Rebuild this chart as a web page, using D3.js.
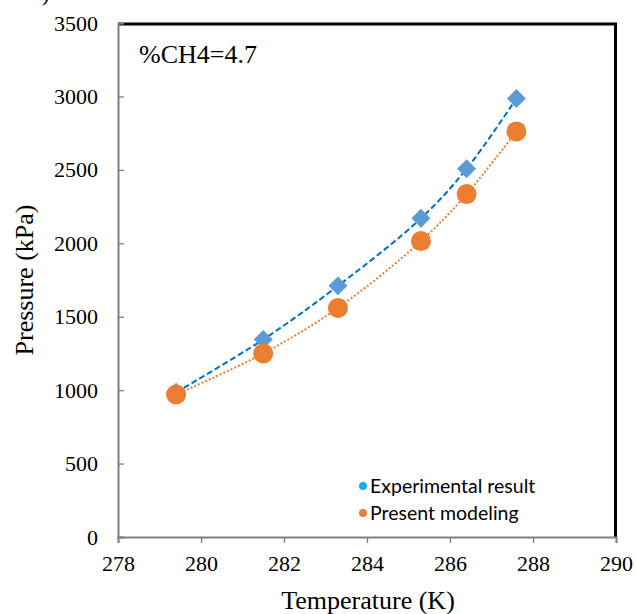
<!DOCTYPE html>
<html>
<head>
<meta charset="utf-8">
<script src="https://cdn.jsdelivr.net/npm/d3@7"></script>
<style>
  body { margin: 0; background: #fff; }
  svg { display: block; }
</style>
</head>
<body>
<svg id="chart"></svg>
<script>
// data
const temperature = [279.4, 281.5, 283.3, 285.3, 286.4, 287.6];
const experimental = [985, 1345, 1710, 2170, 2507, 2986];
const modeling = [970, 1250, 1560, 2015, 2335, 2762];
const xTicks = [278, 280, 282, 284, 286, 288, 290];
const yTicks = [0, 500, 1000, 1500, 2000, 2500, 3000, 3500];
const seriesNames = ['Experimental result', 'Present modeling'];

const width = 636, height = 614;
const margin = {top: 23, right: 20, bottom: 77, left: 118};
const innerW = width - margin.left - margin.right;
const innerH = height - margin.top - margin.bottom;

const svg = d3.select('#chart')
    .attr('width', width)
    .attr('height', height);

const chart = svg.append('g')
    .attr('transform', `translate(${margin.left},${margin.top})`);

// scales
const xScale = d3.scaleLinear().domain([278, 290]).range([0, innerW]);
const yScale = d3.scaleLinear().domain([0, 3500]).range([innerH, 0]);

const serif = '"Liberation Serif", "Times New Roman", serif';

// frame: black top + right
chart.append('path')
    .attr('d', `M0,1 H${innerW - 0.5} V${innerH}`)
    .attr('fill', 'none')
    .attr('stroke', '#000')
    .attr('stroke-width', 3);

// y axis, ticks pointing inward
const yAxis = d3.axisLeft(yScale)
    .tickValues(yTicks)
    .tickFormat(d3.format('d'))
    .tickSize(-6)
    .tickPadding(20);
const yAxisG = chart.append('g').call(yAxis);
yAxisG.attr('font-family', null).attr('font-size', null);
yAxisG.select('.domain').attr('stroke', '#7f7f7f').attr('stroke-width', 2);
yAxisG.selectAll('.tick line').attr('stroke', '#7f7f7f').attr('stroke-width', 1.3);
yAxisG.selectAll('.tick text')
    .style('font-family', serif)
    .style('font-size', '22px')
    .attr('fill', '#000');

// x axis, ticks pointing outward
const xAxis = d3.axisBottom(xScale)
    .tickValues(xTicks)
    .tickFormat(d3.format('d'))
    .tickSize(6)
    .tickPadding(12);
const xAxisG = chart.append('g')
    .attr('transform', `translate(0,${innerH})`)
    .call(xAxis);
xAxisG.attr('font-family', null).attr('font-size', null);
xAxisG.select('.domain').attr('stroke', '#7f7f7f').attr('stroke-width', 2);
xAxisG.selectAll('.tick line').attr('stroke', '#7f7f7f').attr('stroke-width', 1.3);
xAxisG.selectAll('.tick text')
    .style('font-family', serif)
    .style('font-size', '22px')
    .attr('fill', '#000');

// axis titles
svg.append('text')
    .attr('x', 368)
    .attr('y', 609)
    .attr('text-anchor', 'middle')
    .style('font-family', serif)
    .style('font-size', '26px')
    .text('Temperature (K)');

svg.append('text')
    .attr('transform', 'translate(33,280) rotate(-90)')
    .attr('text-anchor', 'middle')
    .style('font-family', serif)
    .style('font-size', '26px')
    .text('Pressure (kPa)');

// stray bracket from the panel label, cut off at the top edge
svg.append('text')
    .attr('x', 42)
    .attr('y', 1)
    .style('font-family', serif)
    .style('font-size', '22px')
    .text(')');

// annotation
svg.append('text')
    .attr('x', 139)
    .attr('y', 63)
    .style('font-family', serif)
    .style('font-size', '26px')
    .text('%CH4=4.7');

// smoothed lines
const expData = temperature.map((t, i) => ({x: t, y: experimental[i]}));
const modData = temperature.map((t, i) => ({x: t, y: modeling[i]}));

const line = d3.line()
    .x(d => xScale(d.x))
    .y(d => yScale(d.y))
    .curve(d3.curveCatmullRom.alpha(0.5));

chart.append('path')
    .datum(expData)
    .attr('d', line)
    .attr('fill', 'none')
    .attr('stroke', '#0070c0')
    .attr('stroke-width', 2)
    .attr('stroke-dasharray', '6,3');

chart.append('path')
    .datum(modData)
    .attr('d', line)
    .attr('fill', 'none')
    .attr('stroke', '#ed7d31')
    .attr('stroke-width', 2)
    .attr('stroke-dasharray', '2,2');

// markers
chart.selectAll('.diamond')
    .data(expData)
    .enter()
    .append('path')
    .attr('class', 'diamond')
    .attr('d', d3.symbol().type(d3.symbolSquare).size(180))
    .attr('transform', d => `translate(${xScale(d.x)},${yScale(d.y)}) rotate(45)`)
    .attr('fill', '#5b9bd5');

chart.selectAll('.dot')
    .data(modData)
    .enter()
    .append('circle')
    .attr('class', 'dot')
    .attr('cx', d => xScale(d.x))
    .attr('cy', d => yScale(d.y))
    .attr('r', 10)
    .attr('fill', '#ed7d31');

// legend
const legendColors = ['#1aa7ee', '#ed7d31'];
const legend = svg.append('g').attr('transform', 'translate(363,486)');
seriesNames.forEach((name, i) => {
    legend.append('circle')
        .attr('cx', 0)
        .attr('cy', i * 27)
        .attr('r', 4)
        .attr('fill', legendColors[i]);
    legend.append('text')
        .attr('x', 7)
        .attr('y', i * 27 + 7)
        .style('font-family', 'Lato, "Open Sans", sans-serif')
        .style('font-size', '19.5px')
        .attr('fill', '#000')
        .text(name);
});
</script>
</body>
</html>
